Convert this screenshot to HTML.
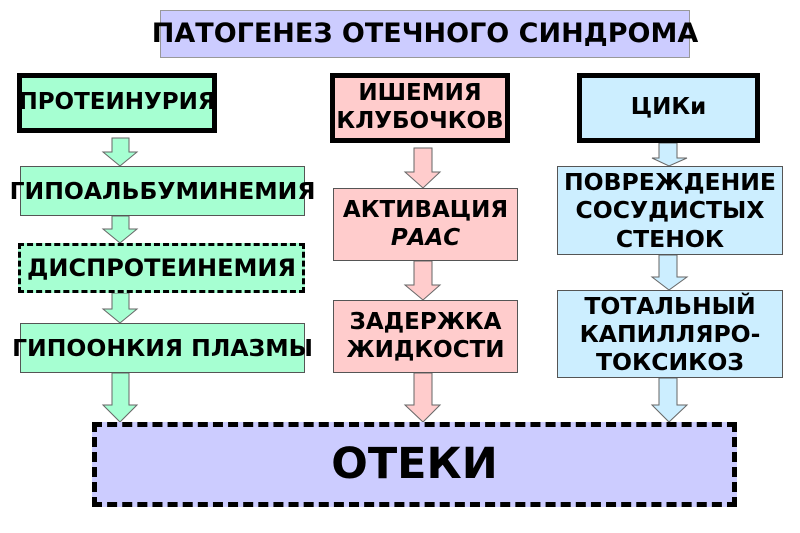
<!DOCTYPE html>
<html><head><meta charset="utf-8"><style>
body{margin:0;width:800px;height:533px;background:#fff;position:relative;overflow:hidden;font-family:"DejaVu Sans","Liberation Sans",sans-serif;font-weight:bold;}
.b{position:absolute;box-sizing:border-box;display:flex;align-items:center;justify-content:center;text-align:center;color:#000;line-height:1.2;white-space:nowrap;}
.b span{display:block}
.g{background:#a6ffd2}.p{background:#ffcccc}.c{background:#cceeff}
svg{position:absolute;left:0;top:0}
</style></head><body>
<svg width="800" height="533">
<g stroke="#666" stroke-width="1">
<polygon fill="#a6ffd2" points="112,138 129,138 129,152 137,152 120,166 103,152 112,152"/>
<polygon fill="#a6ffd2" points="112,216 129,216 129,229 137,229 120,243 103,229 112,229"/>
<polygon fill="#a6ffd2" points="112,293 129,293 129,309 137,309 120,323 103,309 112,309"/>
<polygon fill="#a6ffd2" points="112,373 129,373 129,405 137,405 120,422 103,405 112,405"/>
<polygon fill="#ffcccc" points="414,148 432,148 432,172 440,172 423,188 405,172 414,172"/>
<polygon fill="#ffcccc" points="414,261 432,261 432,285 440,285 423,300 405,285 414,285"/>
<polygon fill="#ffcccc" points="414,373 432,373 432,405 440,405 423,422 405,405 414,405"/>
<polygon fill="#cceeff" points="659,143 677,143 677,158 687,158 669,166 652,158 659,158"/>
<polygon fill="#cceeff" points="659,255 677,255 677,277 687,277 669,290 652,277 659,277"/>
<polygon fill="#cceeff" points="659,378 677,378 677,405 687,405 669,422 652,405 659,405"/>
</g></svg>
<div class="b" style="left:160px;top:10px;width:530px;height:48px;background:#ccccff;border:1px solid #999;font-size:27px"><span>ПАТОГЕНЕЗ ОТЕЧНОГО СИНДРОМА</span></div>
<div class="b g" style="left:17px;top:73px;width:200px;height:60px;border:5px solid #000;font-size:23px"><span>ПРОТЕИНУРИЯ</span></div>
<div class="b g" style="left:20px;top:166px;width:285px;height:50px;border:1px solid #555;font-size:23.5px"><span>ГИПОАЛЬБУМИНЕМИЯ</span></div>
<div class="b g" style="left:18px;top:243px;width:287px;height:50px;border:3px dashed #000;font-size:24px"><span>ДИСПРОТЕИНЕМИЯ</span></div>
<div class="b g" style="left:20px;top:323px;width:285px;height:50px;border:1px solid #555;font-size:23.5px"><span>ГИПООНКИЯ ПЛАЗМЫ</span></div>
<div class="b p" style="left:330px;top:73px;width:180px;height:70px;border:5px solid #000;font-size:23px"><span>ИШЕМИЯ<br>КЛУБОЧКОВ</span></div>
<div class="b p" style="left:333px;top:188px;width:185px;height:73px;border:1px solid #555;font-size:23px"><span>АКТИВАЦИЯ<br><i>РААС</i></span></div>
<div class="b p" style="left:333px;top:300px;width:185px;height:73px;border:1px solid #555;font-size:23px"><span>ЗАДЕРЖКА<br>ЖИДКОСТИ</span></div>
<div class="b c" style="left:577px;top:73px;width:183px;height:70px;border:5px solid #000;font-size:23px"><span>ЦИКи</span></div>
<div class="b c" style="left:557px;top:166px;width:226px;height:89px;border:1px solid #555;font-size:23.5px"><span>ПОВРЕЖДЕНИЕ<br>СОСУДИСТЫХ<br>СТЕНОК</span></div>
<div class="b c" style="left:557px;top:290px;width:226px;height:88px;border:1px solid #555;font-size:23.5px"><span>ТОТАЛЬНЫЙ<br>КАПИЛЛЯРО-<br>ТОКСИКОЗ</span></div>
<div class="b" style="left:92px;top:422px;width:645px;height:85px;background:#ccccff;border:5px dashed #000;font-size:43px"><span>ОТЕКИ</span></div>
</body></html>
